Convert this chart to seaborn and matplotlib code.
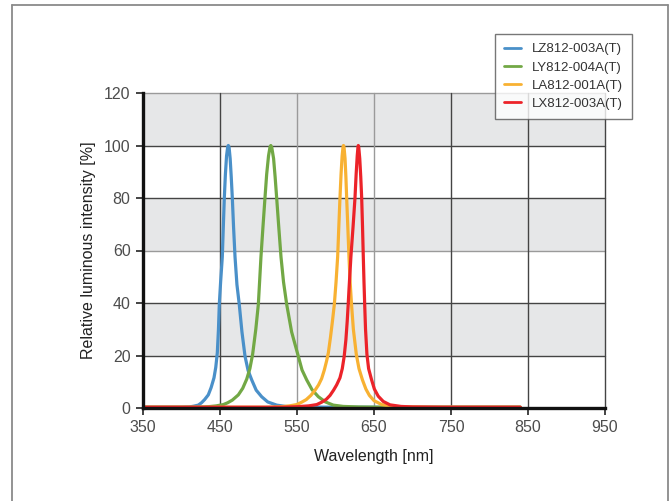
import matplotlib
matplotlib.use("Agg")
import matplotlib.pyplot as plt
from matplotlib.lines import Line2D
import seaborn as sns
import pandas as pd

# ---- data ----
series_names = ["LZ812-003A(T)", "LY812-004A(T)", "LA812-001A(T)", "LX812-003A(T)"]
series_colors = ["#4a90c9", "#72a845", "#f8b132", "#ec2329"]

lz_wl = [350, 400, 410, 416, 421.8, 426, 430, 434.8, 438.5, 442.2, 444.5, 446.5, 448, 449.1,
         450.8, 453, 454.3, 455.6, 457, 458.5, 460, 460.8, 461.8, 463.2, 464.6, 466, 467.6,
         469.5, 472, 475, 478.5, 482.5, 486.5, 491.2, 497, 504.1, 512, 523.6, 535, 550, 600, 840]
lz_val = [0.3, 0.3, 0.4, 0.7, 1.1, 2.0, 3.2, 5.0, 7.8, 11.5, 15.5, 21, 30, 39.5,
          48, 57.6, 69, 80, 89, 96, 99.5, 100, 99.3, 95, 88, 80, 69,
          57.6, 47, 39.5, 29, 19.7, 14.3, 10.7, 6.8, 4.3, 2.3, 1.1, 0.6, 0.4, 0.3, 0.3]

ly_wl = [350, 420, 435, 445, 454.3, 460, 466, 473.8, 479.5, 484.7, 488.8, 492.4, 496.5, 499.8,
         501.5, 503.2, 505.8, 508.4, 510.6, 513, 515, 516, 517.2, 519.6, 521.6, 523.6, 526.3,
         529.2, 532.5, 536.6, 543, 551.7, 556.5, 562.6, 569.5, 577.7, 587, 597.1, 610, 630, 660, 840]
ly_val = [0.3, 0.3, 0.5, 0.8, 1.3, 2.0, 3.0, 5.0, 7.5, 11.0, 15, 20.5, 30, 39.5,
          48.5, 57.6, 69, 80, 89, 96, 99.5, 100, 99.3, 95, 88, 80, 69,
          57.6, 48, 39.5, 29, 19.7, 14.5, 10.7, 7, 4.3, 2.3, 1.1, 0.6, 0.4, 0.3, 0.3]

la_wl = [350, 510, 530, 540, 549.6, 556, 562, 568, 573.5, 578, 582, 585.5, 588.5, 590.7,
         593.5, 596, 598.5, 600.7, 602.8, 604.3, 605.8, 607.2, 608.6, 609.8, 610.4, 611.1,
         612.4, 613.5, 614.5, 616, 617.5, 619, 620.8, 623.2, 627, 630.5, 635, 639.5, 644, 650,
         660, 672, 690, 720, 840]
la_val = [0.3, 0.3, 0.5, 0.8, 1.3, 2.2, 3.2, 4.8, 6.8, 8.8, 11.2, 14.5, 18, 21,
          27, 33, 39.5, 48, 57.6, 69, 80, 89, 96, 99.5, 100, 99.3,
          95, 88, 80, 69, 57.6, 48, 39.5, 30, 20.5, 15, 10.7, 7.2, 4.8, 2.8,
          1.3, 0.6, 0.4, 0.3, 0.3]

lx_wl = [350, 530, 550, 565, 575.6, 582, 588, 592.9, 597.5, 601.5, 605.8, 608.8, 611.3, 613.5,
         615.2, 616.5, 617.5, 620, 622.8, 625.3, 626.8, 628.2, 629.2, 629.6, 630.2, 631.5, 632.8,
         634, 635.1, 636.1, 637, 637.9, 639, 640.8, 643, 646.9, 650.5, 655.5, 662, 670.8, 685,
         700, 740, 840]
lx_val = [0.3, 0.3, 0.5, 0.8, 1.3, 2.2, 3.3, 4.8, 6.8, 8.8, 11.5, 15, 19.7, 26,
          33, 39.5, 45, 57.6, 69, 80, 89, 96, 99.5, 100, 99.3, 95, 88,
          80, 69, 57.6, 48, 39.5, 30, 20.5, 15, 10.7, 7.2, 4.5, 2.5, 1.2, 0.6,
          0.4, 0.3, 0.3]

x_ticks = [350, 450, 550, 650, 750, 850, 950]
y_ticks = [0, 20, 40, 60, 80, 100, 120]
x_label = "Wavelength [nm]"
y_label = "Relative luminous intensity [%]"

# ---- build table ----
frames = []
for name, wl, val in zip(series_names, [lz_wl, ly_wl, la_wl, lx_wl],
                         [lz_val, ly_val, la_val, lx_val]):
    frames.append(pd.DataFrame({"wl": wl, "val": val, "series": name}))
df = pd.concat(frames, ignore_index=True)

sns.set_theme(style="white")
plt.rcParams["font.family"] = ["Liberation Sans", "DejaVu Sans"]

fig = plt.figure(figsize=(6.71, 5.01), dpi=100)
ax = fig.add_axes([143 / 671, (501 - 408) / 501, 462 / 671, 315 / 501])

# outer frame
frame_col = "#8a8a8a"
fig.add_artist(Line2D([12 / 671, 12 / 671], [0, 1 - 5 / 501], transform=fig.transFigure,
                      color=frame_col, lw=1.3))
fig.add_artist(Line2D([12 / 671, 668 / 671], [1 - 5 / 501, 1 - 5 / 501],
                      transform=fig.transFigure, color=frame_col, lw=1.3))
fig.add_artist(Line2D([668 / 671, 668 / 671], [0, 1 - 5 / 501], transform=fig.transFigure,
                      color=frame_col, lw=1.3))

# bands
for lo, hi in [(20, 40), (60, 80), (100, 120)]:
    ax.axhspan(lo, hi, color="#e6e7e8", zorder=0, lw=0)

# grid lines
dark = "#444444"
light = "#9a9a9a"
for y, c in [(20, dark), (40, dark), (60, light), (80, dark), (100, dark), (120, light)]:
    ax.axhline(y, color=c, lw=1.0, zorder=1, clip_on=False)
for x, c in [(450, dark), (550, light), (650, light), (750, dark), (850, dark), (950, dark)]:
    ax.axvline(x, color=c, lw=1.0, zorder=1, clip_on=False)

sns.lineplot(data=df, x="wl", y="val", hue="series", palette=series_colors,
             hue_order=series_names, estimator=None, sort=False, lw=2.3, ax=ax,
             zorder=3, legend=False)

ax.set_xlim(350, 950)
ax.set_ylim(0, 120)
ax.set_xticks(x_ticks)
ax.set_yticks(y_ticks)
ax.set_xticklabels([str(v) for v in x_ticks])
ax.set_yticklabels([str(v) for v in y_ticks])

for s in ["top", "right"]:
    ax.spines[s].set_visible(False)
for s in ["left", "bottom"]:
    ax.spines[s].set_color("#111111")
    ax.spines[s].set_linewidth(2.4)
    ax.spines[s].set_zorder(4)

ax.tick_params(axis="both", which="major", direction="out", length=5, width=1.1,
               color="#111111", labelsize=11.5, labelcolor="#4d4d4d", pad=4,
               bottom=True, left=True)

ax.set_xlabel(x_label, fontsize=11.5, color="#222222", labelpad=10)
ax.set_ylabel(y_label, fontsize=11.5, color="#222222", labelpad=6)

handles = [Line2D([0], [0], color=c, lw=2.0) for c in series_colors]
leg = fig.legend(handles, series_names, loc="upper left",
                 bbox_to_anchor=(495 / 671, 1 - 34 / 501), bbox_transform=fig.transFigure,
                 borderaxespad=0, fontsize=9.5, frameon=True, fancybox=False,
                 handlelength=1.3, handletextpad=0.8, labelspacing=0.45,
                 borderpad=0.7)
leg.get_frame().set_edgecolor("#555555")
leg.get_frame().set_linewidth(1.0)
for t in leg.get_texts():
    t.set_color("#333333")

fig.savefig("out.png", dpi=100)
